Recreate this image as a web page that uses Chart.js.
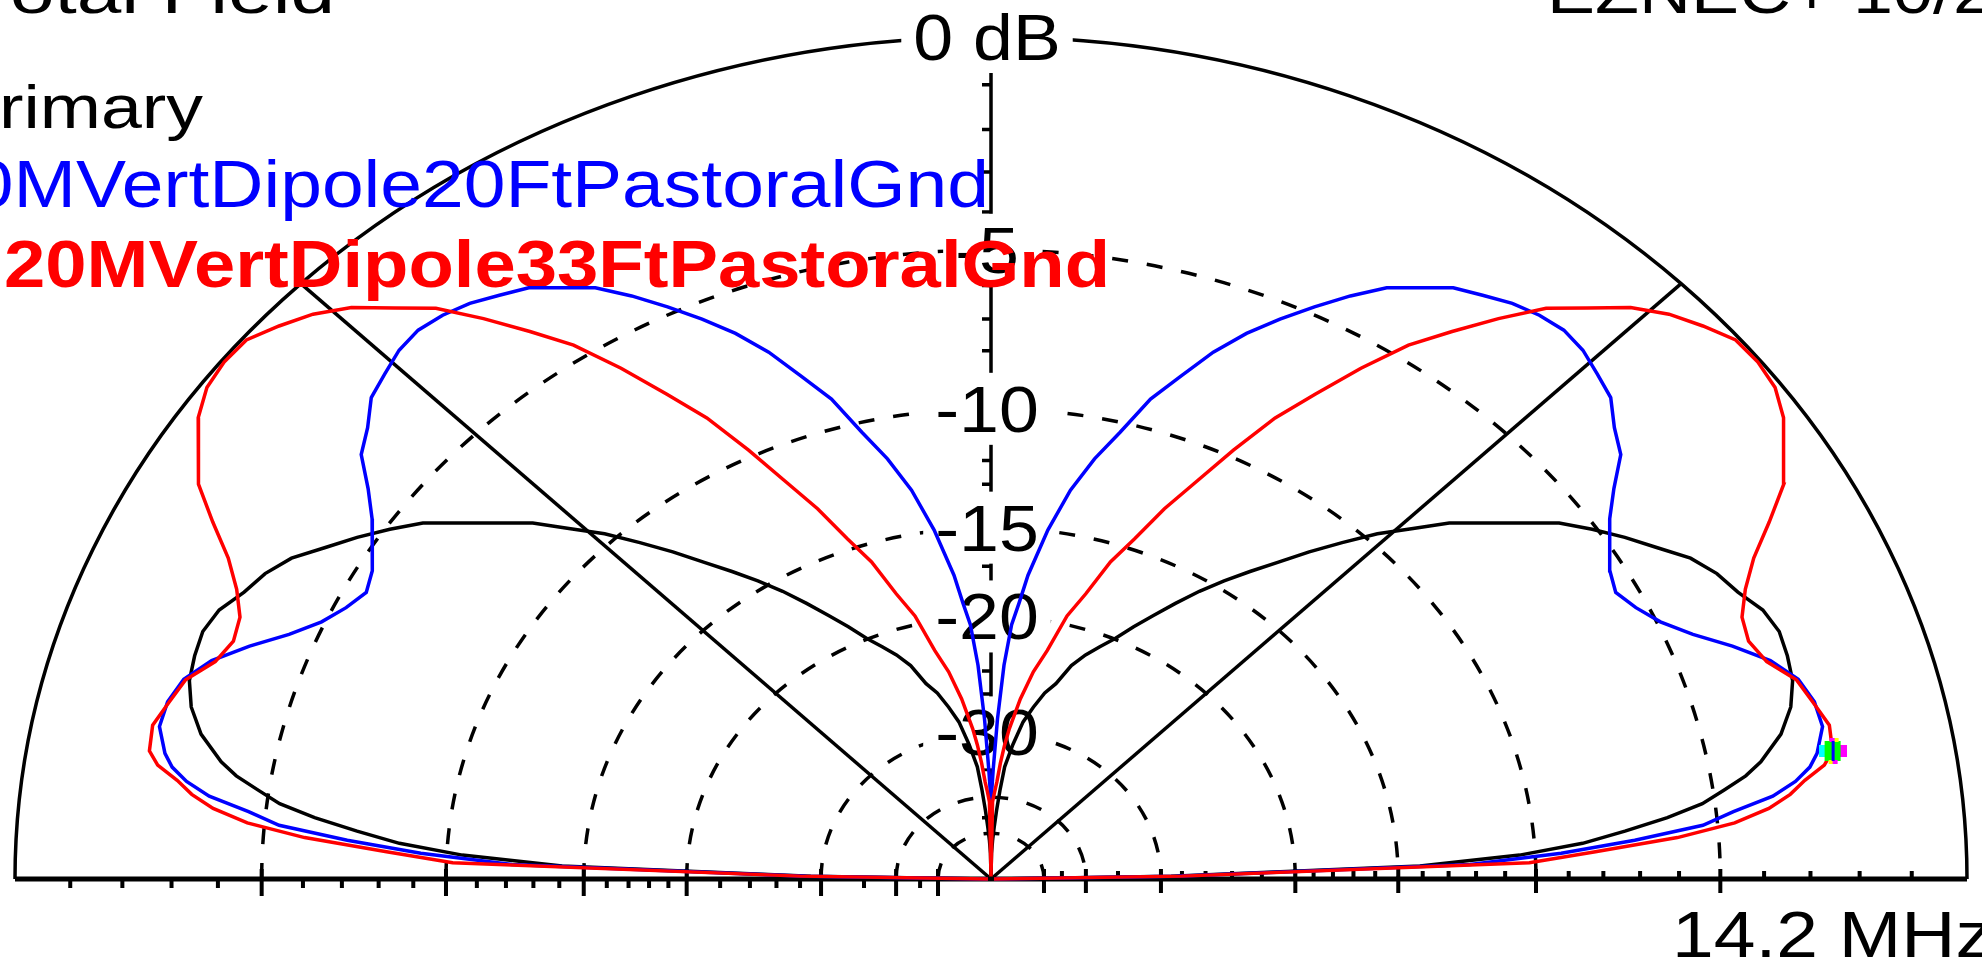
<!DOCTYPE html>
<html>
<head>
<meta charset="utf-8">
<title>Total Field</title>
<script src="https://cdn.jsdelivr.net/npm/chart.js@4.4.0/dist/chart.umd.min.js"></script>
<style>
  html, body { margin: 0; padding: 0; background: #fff; overflow: hidden; }
  canvas { display: block; }
</style>
</head>
<body>
<canvas id="grafico" width="1982" height="962"></canvas>
<script>
// elevation angles (deg) of the samples, horizon to zenith
const elevationDeg = [0, 1, 2, 3, 4, 5, 6, 7, 8, 9, 10,
    12, 14, 16, 18, 20, 22, 24, 26, 28, 30, 32, 34, 36, 38, 40, 42, 44, 46, 48,
    50, 52, 54, 56, 58, 60, 62, 64, 66, 68, 70, 72, 74, 76, 78, 80, 82, 84,
    85, 86, 87, 88, 89, 90];

// gain in dB relative to the outer ring
const gainPrimary = [-99, -29, -14.1, -10.5, -8.55, -7.34, -6.2, -5.3, -4.75, -4.2, -3.81,
    -3.25, -2.9, -2.7, -2.63, -2.6, -2.73, -3.04, -3.25, -3.58, -4.1, -4.58, -5.1, -5.65, -6.45,
    -7.19, -7.88, -8.8, -9.65, -10.65, -11.65, -12.7, -13.65, -14.6, -15.6, -16.7, -17.8, -18.85,
    -19.95, -20.8, -21.65, -22.7, -24.4, -25.4, -26.9, -28.55, -31.3, -34.5,
    -38.5, -43, -48, -53, -60, -99];

const gain20Ft = [-99, -28.5, -12.2, -9.2, -7.1, -5.35, -4.6, -3.68, -3.15, -2.8, -2.6,
    -2.37, -2.4, -2.58, -3.0, -3.65, -4.36, -4.92, -5.28, -5.52, -5.35, -5.0, -4.6, -4.07, -3.43,
    -3.12, -2.7, -2.52, -2.33, -2.25, -2.31, -2.44, -2.65, -2.85, -3.24, -3.6, -4.17, -4.8,
    -5.45, -6.15, -6.98, -8.0, -8.97, -10.36, -11.55, -13.0, -14.95, -17.4,
    -19.1, -20.5, -23.5, -28.5, -35, -41];

const gain33Ft = [-99, -28, -10.2, -8.2, -6.0, -4.6, -3.8, -3.3, -2.95, -2.5, -2.28,
    -2.23, -2.43, -2.62, -3.08, -3.28, -3.2, -2.87, -2.4, -1.75, -1.1, -0.75, -0.35, -0.12, -0.05,
    -0.07, -0.32, -0.6, -1.0, -1.57, -2.1, -2.9, -3.75, -4.6, -5.75, -7.0, -8.2, -9.75,
    -11.35, -12.8, -14.5, -15.9, -17.9, -19.45, -22.0, -23.8, -26.3, -29.5,
    -31.5, -34, -37, -39, -41, -99];

const seriesNames = ['Primary', '20MVertDipole20FtPastoralGnd', '20MVertDipole33FtPastoralGnd'];
const seriesColors = ['#000000', '#0000ff', '#ff0000'];

// rings of the ARRL log scale and their labels
const ringDb = [0, -5, -10, -15, -20, -30, -40, -50];
const ringLabels = ['0 dB', '-5', '-10', '-15', '-20', '-30'];
const tickDb = [-1, -2, -3, -4, -6, -7, -8, -9, -11, -12, -13, -14, -16, -17, -18, -19,
    -22, -24, -26, -28, -35, -45];

const plotTitle = 'Total Field';
const programLabel = 'EZNEC+ 10/25/2009';
const frequencyLabel = '14.2 MHz';
const cursorIndex = 10; // max gain marker, 10 deg on the 33 ft trace

const FONT = '"Liberation Sans", Arial, sans-serif';

// ARRL log scale: radius drops by 0.89 every 2 dB
function radius(db) {
    return Math.pow(0.89, -db / 2);
}

function polar(deg, db) {
    const r = radius(db);
    const a = deg * Math.PI / 180;
    return { x: r * Math.cos(a), y: r * Math.sin(a) };
}

function toPoints(gains) {
    const pts = elevationDeg.map((deg, i) => polar(deg, gains[i]));
    // the pattern is symmetric about the zenith, the far side uses the same samples
    for (let i = elevationDeg.length - 2; i >= 0; i--) {
        pts.push(polar(180 - elevationDeg[i], gains[i]));
    }
    return pts;
}

function drawText(ctx, text, x, y, font, color, width, align) {
    ctx.save();
    ctx.font = font;
    const w = ctx.measureText(text).width;
    ctx.translate(x, y);
    ctx.scale(width / w, 1);
    ctx.fillStyle = color;
    ctx.textBaseline = 'alphabetic';
    ctx.textAlign = align || 'left';
    ctx.fillText(text, 0, 0);
    ctx.restore();
}

// small multi-coloured cursor block
function cursorImage() {
    const c = document.createElement('canvas');
    c.width = 28;
    c.height = 26;
    const g = c.getContext('2d');
    g.fillStyle = '#00ffff';
    g.fillRect(0, 7, 7, 12);
    g.fillStyle = '#00ff00';
    g.fillRect(6, 3, 16, 20);
    g.fillStyle = '#ff00ff';
    g.fillRect(22, 7, 6, 12);
    g.fillRect(11, 0, 5, 4);
    g.fillRect(14, 22, 5, 4);
    g.fillStyle = '#ffff00';
    g.fillRect(16, 0, 4, 4);
    g.fillRect(10, 22, 4, 4);
    g.fillStyle = '#0000ff';
    g.fillRect(13, 3, 3, 20);
    return c;
}

const polarGrid = {
    id: 'polarGrid',
    beforeDatasetsDraw(chart) {
        const { ctx, scales: { x, y } } = chart;
        const cx = x.getPixelForValue(0);
        const cy = y.getPixelForValue(0);
        const rx = x.getPixelForValue(1) - cx;
        const ry = cy - y.getPixelForValue(1);

        ctx.save();
        ctx.strokeStyle = '#000';
        ctx.lineWidth = 3.5;

        // rings
        ringDb.forEach(db => {
            const r = radius(db);
            ctx.setLineDash(db === 0 ? [] : [16, 19]);
            ctx.beginPath();
            ctx.ellipse(cx, cy, rx * r, ry * r, 0, Math.PI, 2 * Math.PI);
            ctx.stroke();
        });
        ctx.setLineDash([]);

        // 45 deg lines
        [45, 135].forEach(deg => {
            const p = polar(deg, 0);
            ctx.beginPath();
            ctx.moveTo(cx, cy);
            ctx.lineTo(x.getPixelForValue(p.x), y.getPixelForValue(p.y));
            ctx.stroke();
        });

        // vertical axis with ticks
        ctx.beginPath();
        ctx.moveTo(cx, cy);
        ctx.lineTo(cx, cy - ry);
        tickDb.forEach(db => {
            const ty = cy - ry * radius(db);
            ctx.moveTo(cx - 9, ty);
            ctx.lineTo(cx, ty);
        });
        ctx.stroke();

        // baseline with ticks
        ctx.lineWidth = 5;
        ctx.beginPath();
        ctx.moveTo(cx - rx, cy);
        ctx.lineTo(cx + rx, cy);
        ctx.stroke();
        ctx.lineWidth = 4;
        ctx.beginPath();
        tickDb.forEach(db => {
            const d = rx * radius(db);
            ctx.moveTo(cx - d, cy);
            ctx.lineTo(cx - d, cy + 9);
            ctx.moveTo(cx + d, cy);
            ctx.lineTo(cx + d, cy - 8);
        });
        ringDb.slice(1).forEach(db => {
            const d = rx * radius(db);
            ctx.moveTo(cx - d, cy - 10);
            ctx.lineTo(cx - d, cy + 17);
            ctx.moveTo(cx + d, cy - 10);
            ctx.lineTo(cx + d, cy + 14);
        });
        ctx.stroke();

        // ring labels on white boxes
        const labelFont = '64px ' + FONT;
        ctx.font = labelFont;
        ringLabels.forEach((txt, i) => {
            const ty = cy - ry * radius(ringDb[i]);
            const w = ctx.measureText(txt).width * 1.12;
            ctx.fillStyle = '#fff';
            ctx.fillRect(cx - 4 - w / 2 - 12, ty - 36, w + 24, 72);
        });
        ringLabels.forEach((txt, i) => {
            const ty = cy - ry * radius(ringDb[i]);
            ctx.font = labelFont;
            const w = ctx.measureText(txt).width * 1.12;
            drawText(ctx, txt, cx - 4, ty + 23, labelFont, '#000', w, 'center');
        });

        // title, legend and frequency
        drawText(ctx, plotTitle, -30, 13, '62px ' + FONT, '#000', 365);
        drawText(ctx, programLabel, 1547, 13, '62px ' + FONT, '#000', 666);
        drawText(ctx, seriesNames[0], -50, 128, '62px ' + FONT, seriesColors[0], 253);
        drawText(ctx, seriesNames[1], -70, 207, '66px ' + FONT, seriesColors[1], 1059);
        drawText(ctx, seriesNames[2], 4, 287, 'bold 66px ' + FONT, seriesColors[2], 1106);
        drawText(ctx, frequencyLabel, 1672, 957, '64px ' + FONT, '#000', 321);

        ctx.restore();
    }
};

function trace(label, gains, color) {
    return {
        label: label,
        data: toPoints(gains),
        showLine: true,
        borderColor: color,
        backgroundColor: color,
        borderWidth: 3.5,
        pointRadius: 0,
        tension: 0,
        fill: false,
        clip: false
    };
}

function criarGrafico() {
    const ctx = document.getElementById('grafico');
    const cursor = polar(elevationDeg[cursorIndex], gain33Ft[cursorIndex]);

    new Chart(ctx, {
        type: 'scatter',
        data: {
            datasets: [
                {
                    label: 'cursor',
                    data: [cursor],
                    pointStyle: cursorImage(),
                    pointRadius: 14,
                    showLine: false,
                    clip: false
                },
                trace(seriesNames[2], gain33Ft, seriesColors[2]),
                trace(seriesNames[1], gain20Ft, seriesColors[1]),
                trace(seriesNames[0], gainPrimary, seriesColors[0])
            ]
        },
        options: {
            responsive: false,
            devicePixelRatio: 1,
            animation: false,
            layout: { padding: { left: 13, right: 11, top: 37, bottom: 83 } },
            scales: {
                x: { type: 'linear', min: -1, max: 1, display: false },
                y: { type: 'linear', min: 0, max: 1, display: false }
            },
            plugins: {
                legend: { display: false },
                tooltip: { enabled: false }
            }
        },
        plugins: [polarGrid]
    });
}

criarGrafico();
</script>
</body>
</html>
